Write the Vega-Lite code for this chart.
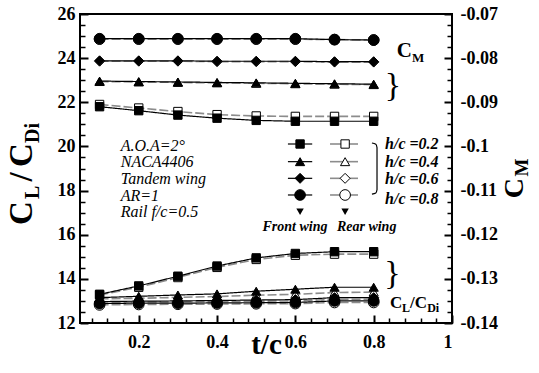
{
  "$schema": "https://vega.github.io/schema/vega-lite/v6.json",
  "width": 372,
  "height": 309,
  "autosize": {"type": "none"},
  "padding": {"left": 80, "top": 14, "right": 87, "bottom": 50},
  "background": "white",
  "config": {
    "view": {"stroke": "black", "strokeWidth": 2},
    "axis": {
      "grid": false, "domain": false, "tickColor": "black", "labelColor": "black",
      "labelFont": "Liberation Serif", "labelFontWeight": "bold", "labelFontSize": 18,
      "titleFont": "Liberation Serif", "titleFontWeight": "bold", "titleColor": "black"
    },
    "text": {"font": "Liberation Serif", "color": "black"}
  },
  "datasets": {
    "cl": [
      {"wing":"Rear","hc":0.2,"t":0.1,"v":13.27},{"wing":"Rear","hc":0.2,"t":0.2,"v":13.62},{"wing":"Rear","hc":0.2,"t":0.3,"v":14.06},{"wing":"Rear","hc":0.2,"t":0.4,"v":14.52},{"wing":"Rear","hc":0.2,"t":0.5,"v":14.88},{"wing":"Rear","hc":0.2,"t":0.6,"v":15.07},{"wing":"Rear","hc":0.2,"t":0.7,"v":15.12},{"wing":"Rear","hc":0.2,"t":0.8,"v":15.12},
      {"wing":"Rear","hc":0.4,"t":0.1,"v":13.10},{"wing":"Rear","hc":0.4,"t":0.2,"v":13.12},{"wing":"Rear","hc":0.4,"t":0.3,"v":13.16},{"wing":"Rear","hc":0.4,"t":0.4,"v":13.20},{"wing":"Rear","hc":0.4,"t":0.5,"v":13.26},{"wing":"Rear","hc":0.4,"t":0.6,"v":13.30},{"wing":"Rear","hc":0.4,"t":0.7,"v":13.38},{"wing":"Rear","hc":0.4,"t":0.8,"v":13.40},
      {"wing":"Rear","hc":0.6,"t":0.1,"v":12.94},{"wing":"Rear","hc":0.6,"t":0.2,"v":12.95},{"wing":"Rear","hc":0.6,"t":0.3,"v":12.96},{"wing":"Rear","hc":0.6,"t":0.4,"v":12.97},{"wing":"Rear","hc":0.6,"t":0.5,"v":12.99},{"wing":"Rear","hc":0.6,"t":0.6,"v":13.00},{"wing":"Rear","hc":0.6,"t":0.7,"v":13.07},{"wing":"Rear","hc":0.6,"t":0.8,"v":13.08},
      {"wing":"Rear","hc":0.8,"t":0.1,"v":12.82},{"wing":"Rear","hc":0.8,"t":0.2,"v":12.84},{"wing":"Rear","hc":0.8,"t":0.3,"v":12.85},{"wing":"Rear","hc":0.8,"t":0.4,"v":12.86},{"wing":"Rear","hc":0.8,"t":0.5,"v":12.87},{"wing":"Rear","hc":0.8,"t":0.6,"v":12.88},{"wing":"Rear","hc":0.8,"t":0.7,"v":12.93},{"wing":"Rear","hc":0.8,"t":0.8,"v":12.93},
      {"wing":"Front","hc":0.2,"t":0.1,"v":13.30},{"wing":"Front","hc":0.2,"t":0.2,"v":13.68},{"wing":"Front","hc":0.2,"t":0.3,"v":14.12},{"wing":"Front","hc":0.2,"t":0.4,"v":14.58},{"wing":"Front","hc":0.2,"t":0.5,"v":14.95},{"wing":"Front","hc":0.2,"t":0.6,"v":15.15},{"wing":"Front","hc":0.2,"t":0.7,"v":15.23},{"wing":"Front","hc":0.2,"t":0.8,"v":15.23},
      {"wing":"Front","hc":0.4,"t":0.1,"v":13.15},{"wing":"Front","hc":0.4,"t":0.2,"v":13.21},{"wing":"Front","hc":0.4,"t":0.3,"v":13.27},{"wing":"Front","hc":0.4,"t":0.4,"v":13.32},{"wing":"Front","hc":0.4,"t":0.5,"v":13.44},{"wing":"Front","hc":0.4,"t":0.6,"v":13.53},{"wing":"Front","hc":0.4,"t":0.7,"v":13.62},{"wing":"Front","hc":0.4,"t":0.8,"v":13.62},
      {"wing":"Front","hc":0.6,"t":0.1,"v":12.97},{"wing":"Front","hc":0.6,"t":0.2,"v":12.99},{"wing":"Front","hc":0.6,"t":0.3,"v":13.00},{"wing":"Front","hc":0.6,"t":0.4,"v":13.02},{"wing":"Front","hc":0.6,"t":0.5,"v":13.04},{"wing":"Front","hc":0.6,"t":0.6,"v":13.06},{"wing":"Front","hc":0.6,"t":0.7,"v":13.15},{"wing":"Front","hc":0.6,"t":0.8,"v":13.15},
      {"wing":"Front","hc":0.8,"t":0.1,"v":12.88},{"wing":"Front","hc":0.8,"t":0.2,"v":12.90},{"wing":"Front","hc":0.8,"t":0.3,"v":12.90},{"wing":"Front","hc":0.8,"t":0.4,"v":12.91},{"wing":"Front","hc":0.8,"t":0.5,"v":12.92},{"wing":"Front","hc":0.8,"t":0.6,"v":12.93},{"wing":"Front","hc":0.8,"t":0.7,"v":13.00},{"wing":"Front","hc":0.8,"t":0.8,"v":13.00}
    ],
    "cm": [
      {"wing":"Rear","hc":0.2,"t":0.1,"v":-0.0905},{"wing":"Rear","hc":0.2,"t":0.2,"v":-0.0913},{"wing":"Rear","hc":0.2,"t":0.3,"v":-0.0921},{"wing":"Rear","hc":0.2,"t":0.4,"v":-0.0928},{"wing":"Rear","hc":0.2,"t":0.5,"v":-0.0931},{"wing":"Rear","hc":0.2,"t":0.6,"v":-0.0932},{"wing":"Rear","hc":0.2,"t":0.7,"v":-0.0932},{"wing":"Rear","hc":0.2,"t":0.8,"v":-0.0932},
      {"wing":"Rear","hc":0.4,"t":0.1,"v":-0.0853},{"wing":"Rear","hc":0.4,"t":0.2,"v":-0.0854},{"wing":"Rear","hc":0.4,"t":0.3,"v":-0.0855},{"wing":"Rear","hc":0.4,"t":0.4,"v":-0.0856},{"wing":"Rear","hc":0.4,"t":0.5,"v":-0.0857},{"wing":"Rear","hc":0.4,"t":0.6,"v":-0.0858},{"wing":"Rear","hc":0.4,"t":0.7,"v":-0.0859},{"wing":"Rear","hc":0.4,"t":0.8,"v":-0.0860},
      {"wing":"Rear","hc":0.6,"t":0.1,"v":-0.0807},{"wing":"Rear","hc":0.6,"t":0.2,"v":-0.0807},{"wing":"Rear","hc":0.6,"t":0.3,"v":-0.0807},{"wing":"Rear","hc":0.6,"t":0.4,"v":-0.0808},{"wing":"Rear","hc":0.6,"t":0.5,"v":-0.0808},{"wing":"Rear","hc":0.6,"t":0.6,"v":-0.0808},{"wing":"Rear","hc":0.6,"t":0.7,"v":-0.0809},{"wing":"Rear","hc":0.6,"t":0.8,"v":-0.0809},
      {"wing":"Rear","hc":0.8,"t":0.1,"v":-0.0757},{"wing":"Rear","hc":0.8,"t":0.2,"v":-0.0757},{"wing":"Rear","hc":0.8,"t":0.3,"v":-0.0757},{"wing":"Rear","hc":0.8,"t":0.4,"v":-0.0757},{"wing":"Rear","hc":0.8,"t":0.5,"v":-0.0757},{"wing":"Rear","hc":0.8,"t":0.6,"v":-0.0757},{"wing":"Rear","hc":0.8,"t":0.7,"v":-0.0758},{"wing":"Rear","hc":0.8,"t":0.8,"v":-0.0759},
      {"wing":"Front","hc":0.2,"t":0.1,"v":-0.0910},{"wing":"Front","hc":0.2,"t":0.2,"v":-0.0919},{"wing":"Front","hc":0.2,"t":0.3,"v":-0.0929},{"wing":"Front","hc":0.2,"t":0.4,"v":-0.0936},{"wing":"Front","hc":0.2,"t":0.5,"v":-0.0941},{"wing":"Front","hc":0.2,"t":0.6,"v":-0.0943},{"wing":"Front","hc":0.2,"t":0.7,"v":-0.0943},{"wing":"Front","hc":0.2,"t":0.8,"v":-0.0943},
      {"wing":"Front","hc":0.4,"t":0.1,"v":-0.0852},{"wing":"Front","hc":0.4,"t":0.2,"v":-0.0853},{"wing":"Front","hc":0.4,"t":0.3,"v":-0.0854},{"wing":"Front","hc":0.4,"t":0.4,"v":-0.0855},{"wing":"Front","hc":0.4,"t":0.5,"v":-0.0856},{"wing":"Front","hc":0.4,"t":0.6,"v":-0.0857},{"wing":"Front","hc":0.4,"t":0.7,"v":-0.0858},{"wing":"Front","hc":0.4,"t":0.8,"v":-0.0859},
      {"wing":"Front","hc":0.6,"t":0.1,"v":-0.0806},{"wing":"Front","hc":0.6,"t":0.2,"v":-0.0806},{"wing":"Front","hc":0.6,"t":0.3,"v":-0.0806},{"wing":"Front","hc":0.6,"t":0.4,"v":-0.0807},{"wing":"Front","hc":0.6,"t":0.5,"v":-0.0807},{"wing":"Front","hc":0.6,"t":0.6,"v":-0.0807},{"wing":"Front","hc":0.6,"t":0.7,"v":-0.0808},{"wing":"Front","hc":0.6,"t":0.8,"v":-0.0808},
      {"wing":"Front","hc":0.8,"t":0.1,"v":-0.0756},{"wing":"Front","hc":0.8,"t":0.2,"v":-0.0756},{"wing":"Front","hc":0.8,"t":0.3,"v":-0.0756},{"wing":"Front","hc":0.8,"t":0.4,"v":-0.0756},{"wing":"Front","hc":0.8,"t":0.5,"v":-0.0756},{"wing":"Front","hc":0.8,"t":0.6,"v":-0.0756},{"wing":"Front","hc":0.8,"t":0.7,"v":-0.0758},{"wing":"Front","hc":0.8,"t":0.8,"v":-0.0759}
    ],
    "legendLines": [
      {"s":"F2","wing":"Front","t":0.581,"y":20.11},{"s":"F2","wing":"Front","t":0.643,"y":20.11},
      {"s":"F4","wing":"Front","t":0.581,"y":19.31},{"s":"F4","wing":"Front","t":0.643,"y":19.31},
      {"s":"F6","wing":"Front","t":0.581,"y":18.555},{"s":"F6","wing":"Front","t":0.643,"y":18.555},
      {"s":"F8","wing":"Front","t":0.581,"y":17.80},{"s":"F8","wing":"Front","t":0.643,"y":17.80},
      {"s":"R2","wing":"Rear","t":0.6885,"y":20.11},{"s":"R2","wing":"Rear","t":0.760,"y":20.11},
      {"s":"R4","wing":"Rear","t":0.6885,"y":19.31},{"s":"R4","wing":"Rear","t":0.760,"y":19.31},
      {"s":"R6","wing":"Rear","t":0.6885,"y":18.555},{"s":"R6","wing":"Rear","t":0.760,"y":18.555},
      {"s":"R8","wing":"Rear","t":0.6885,"y":17.80},{"s":"R8","wing":"Rear","t":0.760,"y":17.80}
    ],
    "legendPts": [
      {"wing":"Front","hc":0.2,"t":0.612,"y":20.11},{"wing":"Front","hc":0.4,"t":0.612,"y":19.31},
      {"wing":"Front","hc":0.6,"t":0.612,"y":18.555},{"wing":"Front","hc":0.8,"t":0.612,"y":17.80},
      {"wing":"Rear","hc":0.2,"t":0.727,"y":20.11},{"wing":"Rear","hc":0.4,"t":0.727,"y":19.31},
      {"wing":"Rear","hc":0.6,"t":0.727,"y":18.555},{"wing":"Rear","hc":0.8,"t":0.727,"y":17.80}
    ]
  },
  "resolve": {"scale": {"y": "independent"}, "axis": {"x": "independent", "y": "independent"}},
  "layer": [
    {
      "resolve": {"axis": {"x": "independent", "y": "independent"}},
      "layer": [
        {
          "data": {"name": "cl"},
          "mark": {"type": "line"},
          "encoding": {
            "x": {"field": "t", "type": "quantitative",
                  "scale": {"domain": [0.05, 1], "nice": false, "zero": false},
                  "axis": {"orient": "bottom", "values": [0.2, 0.4, 0.6, 0.8, 1], "labelExpr": "'' + datum.value",
                           "tickSize": -8, "tickWidth": 2, "labelPadding": 18,
                           "title": "t/c", "titleFontSize": 29, "titleBaseline": "alphabetic", "titleY": 30}},
            "y": {"field": "v", "type": "quantitative",
                  "scale": {"domain": [12, 26], "nice": false, "zero": false},
                  "axis": {"orient": "left", "values": [12, 14, 16, 18, 20, 22, 24, 26],
                           "tickSize": -8, "tickWidth": 2, "labelPadding": 13, "title": null}},
            "detail": {"field": "hc"},
            "stroke": {"field": "wing", "type": "nominal", "scale": {"domain": ["Front", "Rear"], "range": ["black", "#8c8c8c"]}, "legend": null},
            "strokeDash": {"field": "wing", "type": "nominal", "scale": {"domain": ["Front", "Rear"], "range": [[1, 0], [9, 3]]}, "legend": null},
            "strokeWidth": {"field": "wing", "type": "nominal", "scale": {"domain": ["Front", "Rear"], "range": [1.2, 1.6]}, "legend": null}
          }
        },
        {
          "data": {"name": "cl"},
          "mark": {"type": "point", "filled": true, "stroke": "black", "strokeWidth": 1, "opacity": 1},
          "encoding": {
            "x": {"field": "t", "type": "quantitative",
                  "axis": {"orient": "bottom", "values": [0.08, 0.12, 0.16, 0.24, 0.28, 0.32, 0.36, 0.44, 0.48, 0.52, 0.56, 0.64, 0.68, 0.72, 0.76, 0.84, 0.88, 0.92, 0.96],
                           "tickSize": -5, "tickWidth": 1.5, "labels": false, "title": null}},
            "y": {"field": "v", "type": "quantitative",
                  "axis": {"orient": "left", "values": [12.5, 13, 13.5, 14.5, 15, 15.5, 16.5, 17, 17.5, 18.5, 19, 19.5, 20.5, 21, 21.5, 22.5, 23, 23.5, 24.5, 25, 25.5],
                           "tickSize": -5, "tickWidth": 1.5, "labels": false, "title": null}},
            "shape": {"field": "hc", "type": "nominal", "scale": {"domain": [0.2, 0.4, 0.6, 0.8], "range": ["square", "triangle-up", "diamond", "circle"]}, "legend": null},
            "size": {"field": "hc", "type": "quantitative", "scale": {"domain": [0.2, 0.8], "range": [70, 114]}, "legend": null},
            "fill": {"field": "wing", "type": "nominal", "scale": {"domain": ["Front", "Rear"], "range": ["black", "white"]}, "legend": null}
          }
        },
        {
          "data": {"name": "legendLines"},
          "mark": {"type": "line"},
          "encoding": {
            "x": {"field": "t", "type": "quantitative", "axis": null},
            "y": {"field": "y", "type": "quantitative", "axis": null},
            "detail": {"field": "s"},
            "stroke": {"field": "wing", "type": "nominal", "legend": null},
            "strokeWidth": {"field": "wing", "type": "nominal", "legend": null}
          }
        },
        {
          "data": {"name": "legendPts"},
          "mark": {"type": "point", "filled": true, "stroke": "black", "strokeWidth": 1, "opacity": 1},
          "encoding": {
            "x": {"field": "t", "type": "quantitative", "axis": null},
            "y": {"field": "y", "type": "quantitative", "axis": null},
            "shape": {"field": "hc", "type": "nominal", "legend": null},
            "size": {"field": "hc", "type": "quantitative", "legend": null},
            "fill": {"field": "wing", "type": "nominal", "legend": null}
          }
        },
        {
          "data": {"values": [{"t": 0.612, "y": 17.04}, {"t": 0.727, "y": 17.04}]},
          "mark": {"type": "point", "shape": "triangle-down", "filled": true, "color": "black", "size": 55, "opacity": 1},
          "encoding": {
            "x": {"field": "t", "type": "quantitative", "axis": null},
            "y": {"field": "y", "type": "quantitative", "axis": null}
          }
        },
        {
          "data": {"values": [
            {"i": 0, "t": 0.7955, "y": 20.155}, {"i": 1, "t": 0.8055, "y": 20.1}, {"i": 2, "t": 0.8085, "y": 19.95},
            {"i": 3, "t": 0.8085, "y": 18.04}, {"i": 4, "t": 0.8055, "y": 17.89}, {"i": 5, "t": 0.7955, "y": 17.84}
          ]},
          "mark": {"type": "line", "color": "black", "strokeWidth": 1.2, "interpolate": "monotone"},
          "encoding": {
            "x": {"field": "t", "type": "quantitative", "axis": null},
            "y": {"field": "y", "type": "quantitative", "axis": null},
            "order": {"field": "i"}
          }
        },
        {
          "data": {"values": [
            {"label": "A.O.A=2°", "t": 0.154, "y": 19.815},
            {"label": "NACA4406", "t": 0.154, "y": 19.068},
            {"label": "Tandem wing", "t": 0.154, "y": 18.32},
            {"label": "AR=1", "t": 0.154, "y": 17.55},
            {"label": "Rail f/c=0.5", "t": 0.154, "y": 16.80}
          ]},
          "mark": {"type": "text", "fontSize": 16, "fontStyle": "italic", "align": "left", "baseline": "alphabetic"},
          "encoding": {
            "x": {"field": "t", "type": "quantitative", "axis": null},
            "y": {"field": "y", "type": "quantitative", "axis": null},
            "text": {"field": "label"}
          }
        },
        {
          "data": {"values": [
            {"label": "h/c =0.2", "t": 0.829, "y": 19.906},
            {"label": "h/c =0.4", "t": 0.829, "y": 19.068},
            {"label": "h/c =0.6", "t": 0.829, "y": 18.30},
            {"label": "h/c =0.8", "t": 0.829, "y": 17.37}
          ]},
          "mark": {"type": "text", "fontSize": 16, "fontStyle": "italic", "fontWeight": "bold", "align": "left", "baseline": "alphabetic"},
          "encoding": {
            "x": {"field": "t", "type": "quantitative", "axis": null},
            "y": {"field": "y", "type": "quantitative", "axis": null},
            "text": {"field": "label"}
          }
        },
        {
          "data": {"values": [
            {"label": "Front wing", "t": 0.599, "y": 16.18},
            {"label": "Rear wing", "t": 0.782, "y": 16.18}
          ]},
          "mark": {"type": "text", "fontSize": 14, "fontStyle": "italic", "fontWeight": "bold", "align": "center", "baseline": "alphabetic"},
          "encoding": {
            "x": {"field": "t", "type": "quantitative", "axis": null},
            "y": {"field": "y", "type": "quantitative", "axis": null},
            "text": {"field": "label"}
          }
        },
        {
          "data": {"values": [
            {"label": "}", "t": 0.8494, "y": 22.74},
            {"label": "}", "t": 0.848, "y": 14.22}
          ]},
          "mark": {"type": "text", "fontSize": 34, "align": "center", "baseline": "middle"},
          "encoding": {
            "x": {"field": "t", "type": "quantitative", "axis": null},
            "y": {"field": "y", "type": "quantitative", "axis": null},
            "text": {"field": "label"}
          }
        },
        {
          "data": {"values": [{"label": "C", "t": 0.8587, "y": 24.04}]},
          "mark": {"type": "text", "fontSize": 21, "fontWeight": "bold", "align": "left", "baseline": "alphabetic"},
          "encoding": {
            "x": {"field": "t", "type": "quantitative", "axis": null},
            "y": {"field": "y", "type": "quantitative", "axis": null},
            "text": {"field": "label"}
          }
        },
        {
          "data": {"values": [{"label": "M", "t": 0.898, "y": 23.84}]},
          "mark": {"type": "text", "fontSize": 13, "fontWeight": "bold", "align": "left", "baseline": "alphabetic"},
          "encoding": {
            "x": {"field": "t", "type": "quantitative", "axis": null},
            "y": {"field": "y", "type": "quantitative", "axis": null},
            "text": {"field": "label"}
          }
        },
        {
          "data": {"values": [
            {"label": "C", "t": 0.8418, "y": 12.693},
            {"label": "/C", "t": 0.8928, "y": 12.693}
          ]},
          "mark": {"type": "text", "fontSize": 17, "fontWeight": "bold", "align": "left", "baseline": "alphabetic"},
          "encoding": {
            "x": {"field": "t", "type": "quantitative", "axis": null},
            "y": {"field": "y", "type": "quantitative", "axis": null},
            "text": {"field": "label"}
          }
        },
        {
          "data": {"values": [
            {"label": "L", "t": 0.8724, "y": 12.512},
            {"label": "Di", "t": 0.9366, "y": 12.512}
          ]},
          "mark": {"type": "text", "fontSize": 12, "fontWeight": "bold", "align": "left", "baseline": "alphabetic"},
          "encoding": {
            "x": {"field": "t", "type": "quantitative", "axis": null},
            "y": {"field": "y", "type": "quantitative", "axis": null},
            "text": {"field": "label"}
          }
        },
        {
          "data": {"values": [
            {"label": "C", "t": -0.0726, "y": 16.44},
            {"label": "/", "t": -0.0726, "y": 18.41},
            {"label": "C", "t": -0.0726, "y": 19.068}
          ]},
          "mark": {"type": "text", "fontSize": 33, "fontWeight": "bold", "align": "left", "baseline": "alphabetic", "angle": 270},
          "encoding": {
            "x": {"field": "t", "type": "quantitative", "axis": null},
            "y": {"field": "y", "type": "quantitative", "axis": null},
            "text": {"field": "label"}
          }
        },
        {
          "data": {"values": [
            {"label": "L", "t": -0.0547, "y": 17.618},
            {"label": "Di", "t": -0.0547, "y": 20.155}
          ]},
          "mark": {"type": "text", "fontSize": 20, "fontWeight": "bold", "align": "left", "baseline": "alphabetic", "angle": 270},
          "encoding": {
            "x": {"field": "t", "type": "quantitative", "axis": null},
            "y": {"field": "y", "type": "quantitative", "axis": null},
            "text": {"field": "label"}
          }
        },
        {
          "data": {"values": [{"label": "C", "t": 1.1816, "y": 17.65}]},
          "mark": {"type": "text", "fontSize": 28, "fontWeight": "bold", "align": "left", "baseline": "alphabetic", "angle": 270},
          "encoding": {
            "x": {"field": "t", "type": "quantitative", "axis": null},
            "y": {"field": "y", "type": "quantitative", "axis": null},
            "text": {"field": "label"}
          }
        },
        {
          "data": {"values": [{"label": "M", "t": 1.1944, "y": 18.637}]},
          "mark": {"type": "text", "fontSize": 19, "fontWeight": "bold", "align": "left", "baseline": "alphabetic", "angle": 270},
          "encoding": {
            "x": {"field": "t", "type": "quantitative", "axis": null},
            "y": {"field": "y", "type": "quantitative", "axis": null},
            "text": {"field": "label"}
          }
        }
      ]
    },
    {
      "resolve": {"axis": {"y": "independent"}},
      "layer": [
        {
          "data": {"name": "cm"},
          "mark": {"type": "line"},
          "encoding": {
            "x": {"field": "t", "type": "quantitative", "axis": null},
            "y": {"field": "v", "type": "quantitative",
                  "scale": {"domain": [-0.14, -0.07], "nice": false, "zero": false},
                  "axis": {"orient": "right", "values": [-0.14, -0.13, -0.12, -0.11, -0.1, -0.09, -0.08, -0.07], "labelExpr": "'' + datum.value",
                           "tickSize": -8, "tickWidth": 2, "labelPadding": 16, "title": null}},
            "detail": {"field": "hc"},
            "stroke": {"field": "wing", "type": "nominal", "legend": null},
            "strokeDash": {"field": "wing", "type": "nominal", "legend": null},
            "strokeWidth": {"field": "wing", "type": "nominal", "legend": null}
          }
        },
        {
          "data": {"name": "cm"},
          "mark": {"type": "point", "filled": true, "stroke": "black", "strokeWidth": 1, "opacity": 1},
          "encoding": {
            "x": {"field": "t", "type": "quantitative", "axis": null},
            "y": {"field": "v", "type": "quantitative",
                  "axis": {"orient": "right", "values": [-0.1375, -0.135, -0.1325, -0.1275, -0.125, -0.1225, -0.1175, -0.115, -0.1125, -0.1075, -0.105, -0.1025, -0.0975, -0.095, -0.0925, -0.0875, -0.085, -0.0825, -0.0775, -0.075, -0.0725],
                           "tickSize": -5, "tickWidth": 1.5, "labels": false, "title": null}},
            "shape": {"field": "hc", "type": "nominal", "legend": null},
            "size": {"field": "hc", "type": "quantitative", "legend": null},
            "fill": {"field": "wing", "type": "nominal", "legend": null}
          }
        }
      ]
    }
  ]
}
